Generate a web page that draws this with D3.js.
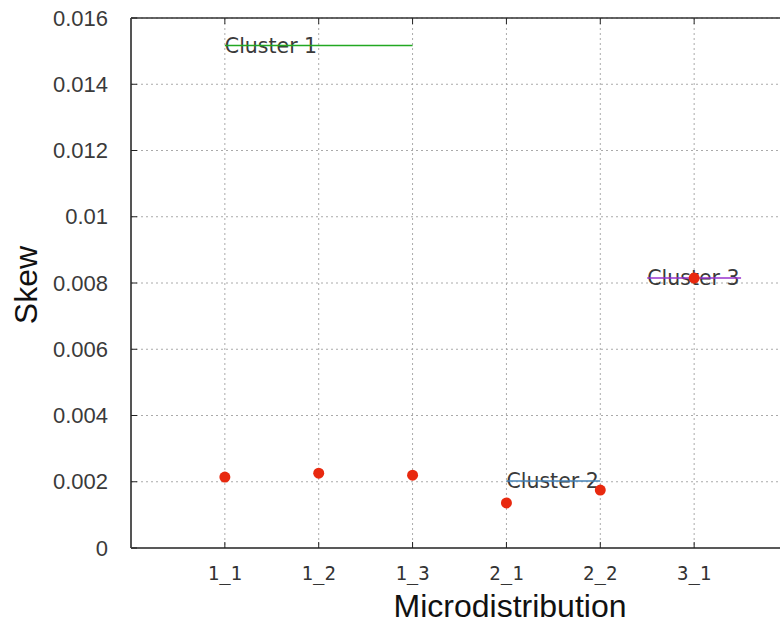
<!DOCTYPE html>
<html>
<head>
<meta charset="utf-8">
<script src="https://cdn.jsdelivr.net/npm/d3@7"></script>
<style>
  body { margin: 0; background: #fff; }
  svg { display: block; }
</style>
</head>
<body>
<svg id="chart" width="780" height="623"></svg>
<script>
// Data
const categories = ["1_1", "1_2", "1_3", "2_1", "2_2", "3_1"];
const skewValues = [0.00214, 0.00226, 0.0022, 0.00136, 0.00175, 0.00815];
const yTicks = [0, 0.002, 0.004, 0.006, 0.008, 0.01, 0.012, 0.014, 0.016];
const yTickLabels = ["0", "0.002", "0.004", "0.006", "0.008", "0.01", "0.012", "0.014", "0.016"];

// Cluster lines: name, start index, end index (x positions), value
const clusterNames = ["Cluster 1", "Cluster 2", "Cluster 3"];
const clusterStart = [1, 4, 5.5];
const clusterEnd = [3, 5, 6.5];
const clusterValues = [0.01517, 0.00202, 0.00815];
const clusterColors = ["#22a822", "#4682b4", "#9932cc"];

const width = 780;
const height = 623;
const area = { left: 131, right: 788, top: 18, bottom: 548 };

const svg = d3.select("#chart");

const xScale = d3.scaleLinear().domain([0, 7]).range([area.left, area.right]);
const yScale = d3.scaleLinear().domain([0, 0.016]).range([area.bottom, area.top]);

const g = svg.append("g");

// Gridlines
g.append("g")
  .selectAll("line")
  .data(yTicks.slice(1))
  .join("line")
  .attr("x1", area.left)
  .attr("x2", width)
  .attr("y1", (d) => yScale(d))
  .attr("y2", (d) => yScale(d))
  .attr("stroke", "#aaa")
  .attr("stroke-width", 1)
  .attr("stroke-dasharray", "2,3");

g.append("g")
  .selectAll("line")
  .data(categories)
  .join("line")
  .attr("x1", (d, i) => xScale(i + 1))
  .attr("x2", (d, i) => xScale(i + 1))
  .attr("y1", area.top)
  .attr("y2", area.bottom)
  .attr("stroke", "#aaa")
  .attr("stroke-width", 1)
  .attr("stroke-dasharray", "2,3");

// Frame: top, bottom and left
g.append("line")
  .attr("x1", area.left).attr("x2", width)
  .attr("y1", area.top).attr("y2", area.top)
  .attr("stroke", "#333").attr("stroke-width", 1.5);

g.append("line")
  .attr("x1", area.left).attr("x2", width)
  .attr("y1", area.bottom).attr("y2", area.bottom)
  .attr("stroke", "#222").attr("stroke-width", 1.5);

g.append("line")
  .attr("x1", area.left).attr("x2", area.left)
  .attr("y1", area.top).attr("y2", area.bottom)
  .attr("stroke", "#555").attr("stroke-width", 2);

// Inward ticks
g.append("g")
  .selectAll("line")
  .data(yTicks)
  .join("line")
  .attr("x1", area.left)
  .attr("x2", area.left + 6)
  .attr("y1", (d) => yScale(d))
  .attr("y2", (d) => yScale(d))
  .attr("stroke", "#222");

g.append("g")
  .selectAll("line")
  .data(categories)
  .join("line")
  .attr("x1", (d, i) => xScale(i + 1))
  .attr("x2", (d, i) => xScale(i + 1))
  .attr("y1", area.bottom)
  .attr("y2", area.bottom - 6)
  .attr("stroke", "#222");

g.append("g")
  .selectAll("line")
  .data(categories)
  .join("line")
  .attr("x1", (d, i) => xScale(i + 1))
  .attr("x2", (d, i) => xScale(i + 1))
  .attr("y1", area.top)
  .attr("y2", area.top + 6)
  .attr("stroke", "#222");

// Y tick labels
g.append("g")
  .selectAll("text")
  .data(yTicks)
  .join("text")
  .attr("x", 108)
  .attr("y", (d) => yScale(d))
  .attr("dy", "0.35em")
  .attr("text-anchor", "end")
  .attr("font-family", "'Liberation Sans', Arial, sans-serif")
  .attr("font-size", 22)
  .attr("fill", "#3a3a3a")
  .text((d, i) => yTickLabels[i]);

// X tick labels
g.append("g")
  .selectAll("text")
  .data(categories)
  .join("text")
  .attr("x", (d, i) => xScale(i + 1))
  .attr("y", 580)
  .attr("text-anchor", "middle")
  .attr("font-family", "'DejaVu Sans Mono', monospace")
  .attr("font-size", 19)
  .attr("fill", "#333")
  .text((d) => d);

// Axis titles
svg.append("text")
  .attr("x", 510)
  .attr("y", 617)
  .attr("text-anchor", "middle")
  .attr("font-family", "'Liberation Sans', Arial, sans-serif")
  .attr("font-size", 32)
  .attr("fill", "#111")
  .text("Microdistribution");

svg.append("text")
  .attr("transform", "translate(37, 285) rotate(-90)")
  .attr("text-anchor", "middle")
  .attr("font-family", "'Liberation Sans', Arial, sans-serif")
  .attr("font-size", 32)
  .attr("fill", "#111")
  .text("Skew");

// Cluster labels and lines
const clusters = g.append("g")
  .selectAll("g")
  .data(clusterNames)
  .join("g");

clusters.append("text")
  .attr("x", (d, i) => xScale(clusterStart[i]))
  .attr("y", (d, i) => yScale(clusterValues[i]))
  .attr("dy", "0.36em")
  .attr("font-family", "'DejaVu Sans', sans-serif")
  .attr("font-size", 20.5)
  .attr("fill", "#3a3a3a")
  .text((d) => d);

clusters.append("line")
  .attr("x1", (d, i) => xScale(clusterStart[i]))
  .attr("x2", (d, i) => xScale(clusterEnd[i]))
  .attr("y1", (d, i) => yScale(clusterValues[i]))
  .attr("y2", (d, i) => yScale(clusterValues[i]))
  .attr("stroke", (d, i) => clusterColors[i])
  .attr("stroke-width", 1.5);

// Points
g.append("g")
  .selectAll("circle")
  .data(skewValues)
  .join("circle")
  .attr("cx", (d, i) => xScale(i + 1))
  .attr("cy", (d) => yScale(d))
  .attr("r", 5.5)
  .attr("fill", "#e8290f");
</script>
</body>
</html>
